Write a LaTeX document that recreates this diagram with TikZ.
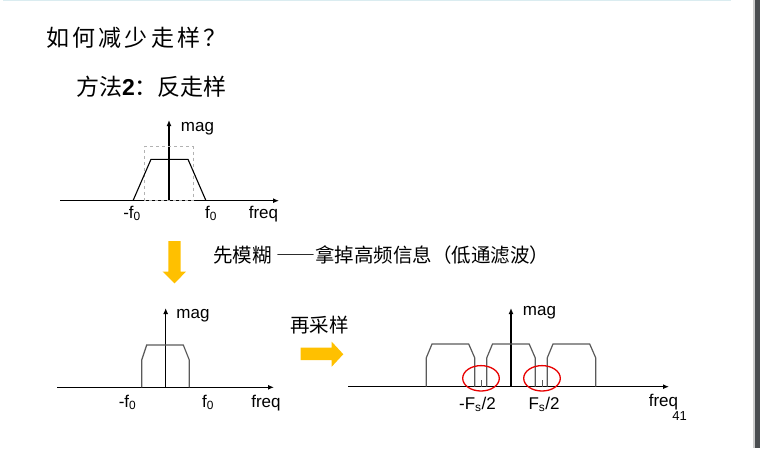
\documentclass[tikz,border=0pt]{standalone}
\usepackage{fontspec}
\usetikzlibrary{arrows.meta}
\setmainfont{Liberation Sans}
\newfontfamily\cjk{Noto Sans CJK SC}
\newfontfamily\cjkwide[LetterSpace=14]{Noto Sans CJK SC}
\newfontfamily\cjkdash[RawFeature=+fwid]{Noto Sans CJK SC}
\definecolor{arrowyellow}{RGB}{255,192,0}
\definecolor{bandgray}{RGB}{90,90,90}
\definecolor{ringred}{RGB}{232,0,0}
\definecolor{rulecyan}{RGB}{218,236,240}
\definecolor{bargray}{RGB}{74,77,80}

\begin{document}
\begin{tikzpicture}[x=1pt,y=-1pt,
    axis/.style={-{Latex[length=6pt,width=5pt]},line width=1.2pt},
    band/.style={line width=1.2pt,bandgray},
    lbl/.style={anchor=base,inner sep=0pt,font=\fontsize{17}{17}\selectfont},
    cn/.style={anchor=west,inner sep=0pt,font=\cjk\fontsize{19.5}{19.5}\selectfont},
    bigcn/.style={cn,font=\cjk\fontsize{23}{23}\selectfont},
    ring/.style={ringred,line width=1.3pt}]
    \useasboundingbox (0,0) rectangle (760,448);
    \draw[rulecyan,line width=1pt] (3,0.5) -- (731,0.5);
    \fill[gray!40] (753,0) rectangle (755,448);
    \fill[bargray] (755,0) rectangle (760,448);

    \node[bigcn,font=\cjkwide\fontsize{23}{23}\selectfont] (title) at (46,37.5) {如何减少走样？};
    \node[bigcn] (method) at (76,86.7) {方法{\rmfamily\bfseries 2}：反走样};

    % original spectrum
    \draw[axis] (60,200.7) -- (279,200.7);
    \draw[axis] (169,200.7) -- (169,120);
    \draw[dashed,gray!60,line width=0.9pt] (144.3,200.7) rectangle (193.3,146.7);
    \draw[line width=1.1pt] (133,200.7) -- (151,159.3) -- (188,159.3) -- (206,200.7);
    \node[lbl] (magA) at (197.5,131.5) {mag};
    \node[lbl] (negfA) at (132,218) {-f\textsubscript{0}};
    \node[lbl] (posfA) at (211,218) {f\textsubscript{0}};
    \node[lbl] (freqA) at (263.5,218) {freq};

    \fill[arrowyellow] (168.3,241) -- (180.7,241) -- (180.7,271.7) -- (186,271.7)
      -- (174.5,283.3) -- (162.7,271.7) -- (168.3,271.7) -- cycle;
    \node[cn] (blur) at (213,255) {先模糊 {\cjkdash ——}拿掉高频信息（低通滤波）};

    % after blur
    \draw[axis] (57,387.3) -- (274,387.3);
    \draw[axis] (165.7,387.3) -- (165.7,308);
    \draw[band] (141.7,387.3) -- (141.7,360) -- (146.7,345) -- (183.3,345)
      -- (189.3,360) -- (189.3,387.3);
    \node[lbl] (magB) at (193,318) {mag};
    \node[lbl] (negfB) at (127.5,407) {-f\textsubscript{0}};
    \node[lbl] (posfB) at (208,407) {f\textsubscript{0}};
    \node[lbl] (freqB) at (266,407) {freq};

    \node[cn] (resample) at (290,325) {再采样};
    \fill[arrowyellow] (300.7,347.7) -- (331.7,347.7) -- (331.7,341.7) -- (343.3,354.2)
      -- (331.7,366.7) -- (331.7,360) -- (300.7,360) -- cycle;

    % resampled spectrum
    \draw[axis] (348,386.7) -- (669,386.7);
    \draw[axis] (511,386.7) -- (511,308);
    \foreach \c in {-60.5,0,60.5}{
      \draw[band,xshift=\c pt] (486.7,386.7) -- (486.7,358) -- (492.5,344) -- (529.2,344)
        -- (535.3,358) -- (535.3,386.7);
    }
    \foreach \s in {-30,31}{
      \draw[band,line width=0.9pt] (511+\s,386.7) -- (511+\s,379.5);
      \draw[ring] (511+\s,378.3) ellipse [x radius=18.3,y radius=12.7];
    }
    \node[lbl] (magC) at (539.5,315) {mag};
    \node[lbl] (negFs) at (477.5,409) {-F\textsubscript{s}/2};
    \node[lbl] (posFs) at (544,409) {F\textsubscript{s}/2};
    \node[lbl] (freqC) at (663.5,406) {freq};
    \node[lbl,font=\fontsize{13}{13}\selectfont] (page) at (679.5,420) {41};
  \end{tikzpicture}
\end{document}
